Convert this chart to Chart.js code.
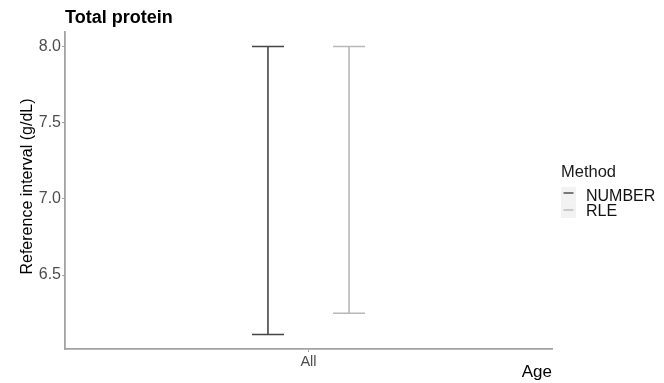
<!DOCTYPE html>
<html>
<head>
<meta charset="utf-8">
<script src="https://cdn.jsdelivr.net/npm/chart.js@4/dist/chart.umd.min.js"></script>
<style>
  html, body { margin: 0; padding: 0; background: #ffffff; }
  #wrap { width: 664px; height: 383px; position: relative; }
</style>
</head>
<body>
<div id="wrap"><canvas id="c" width="664" height="383"></canvas></div>
<script>
// Reference interval per method (g/dL)
const categories = ['All'];
const methods = ['NUMBER', 'RLE'];
const lowerLimits = [6.11, 6.25];
const upperLimits = [8.0, 8.0];
const yTickValues = [6.5, 7.0, 7.5, 8.0];

const FONT = '"Liberation Sans", Arial, Helvetica, sans-serif';
const methodColors = ['#454545', '#b8b8b8'];
const axisColor = '#a3a3a3';

const datasets = methods.map((m, i) => ({
  label: m,
  data: categories.map(() => [lowerLimits[i], upperLimits[i]]),
  backgroundColor: methodColors[i],
  borderWidth: 0,
  maxBarThickness: 1.6,
  categoryPercentage: 0.333,
  barPercentage: 1.0
}));

// Whisker caps at both ends of every interval, plus title / legend / axis titles
const errorBarDecor = {
  id: 'errorBarDecor',
  afterDatasetsDraw(chart) {
    const ctx = chart.ctx;
    chart.data.datasets.forEach((ds, di) => {
      const meta = chart.getDatasetMeta(di);
      meta.data.forEach(el => {
        const half = 16;
        ctx.save();
        ctx.strokeStyle = ds.backgroundColor;
        ctx.lineWidth = 1.6;
        [el.y, el.base].forEach(py => {
          ctx.beginPath();
          ctx.moveTo(el.x - half, py);
          ctx.lineTo(el.x + half, py);
          ctx.stroke();
        });
        ctx.restore();
      });
    });
  },
  afterDraw(chart) {
    const ctx = chart.ctx;
    const area = chart.chartArea;
    ctx.save();
    // plot title
    ctx.fillStyle = '#000000';
    ctx.font = 'bold 18px ' + FONT;
    ctx.textAlign = 'left';
    ctx.textBaseline = 'middle';
    ctx.fillText('Total protein', area.left, 18);

    // y axis title
    ctx.save();
    ctx.translate(28, (area.top + area.bottom) / 2 - 4);
    ctx.rotate(-Math.PI / 2);
    ctx.font = '16px ' + FONT;
    ctx.textAlign = 'center';
    ctx.textBaseline = 'middle';
    ctx.fillStyle = '#000000';
    ctx.fillText('Reference interval (g/dL)', 0, 0);
    ctx.restore();

    // x axis title
    ctx.font = '17px ' + FONT;
    ctx.textAlign = 'right';
    ctx.textBaseline = 'middle';
    ctx.fillStyle = '#000000';
    ctx.fillText('Age', area.right, 372);

    // legend
    const lx = 561;
    ctx.textAlign = 'left';
    ctx.font = '16.5px ' + FONT;
    ctx.fillStyle = '#1a1a1a';
    ctx.fillText('Method', lx, 172);
    const keyTop = 187;
    const keyH = 15.5;
    methods.forEach((m, i) => {
      const ky = keyTop + i * keyH;
      ctx.fillStyle = '#f2f2f2';
      ctx.fillRect(lx, ky, 15, keyH);
      ctx.strokeStyle = methodColors[i];
      ctx.lineWidth = 1.4;
      ctx.beginPath();
      ctx.moveTo(lx + 2.5, ky + 6 + i * 1.5);
      ctx.lineTo(lx + 12.5, ky + 6 + i * 1.5);
      ctx.stroke();
      ctx.fillStyle = '#111111';
      ctx.font = '16px ' + FONT;
      ctx.fillText(m, lx + 25, ky + 9.5);
    });
    ctx.restore();
  }
};

new Chart(document.getElementById('c'), {
  type: 'bar',
  data: { labels: categories, datasets },
  plugins: [errorBarDecor],
  options: {
    responsive: false,
    animation: false,
    layout: { padding: { top: 32, right: 112, left: 0, bottom: 0 } },
    plugins: {
      legend: { display: false },
      title: { display: false },
      tooltip: { enabled: false }
    },
    scales: {
      x: {
        type: 'category',
        offset: true,
        grid: { display: true, offset: false, drawOnChartArea: false, drawTicks: true, tickLength: 3, color: axisColor, lineWidth: 1 },
        border: { display: true, color: axisColor, width: 1.8 },
        ticks: { color: '#4d4d4d', font: { family: FONT, size: 14.5 }, padding: 1 },
        afterFit(scale) { scale.height = 34; }
      },
      y: {
        min: 6.015,
        max: 8.095,
        grid: { display: true, drawOnChartArea: false, drawTicks: true, tickLength: 3, color: axisColor, lineWidth: 1 },
        border: { display: true, color: axisColor, width: 1.8 },
        ticks: {
          color: '#4d4d4d',
          font: { family: FONT, size: 16 },
          padding: 1,
          callback: v => Number(v).toFixed(1)
        },
        afterBuildTicks(scale) { scale.ticks = yTickValues.map(v => ({ value: v })); },
        afterFit(scale) { scale.width = 65; }
      }
    }
  }
});
</script>
</body>
</html>
